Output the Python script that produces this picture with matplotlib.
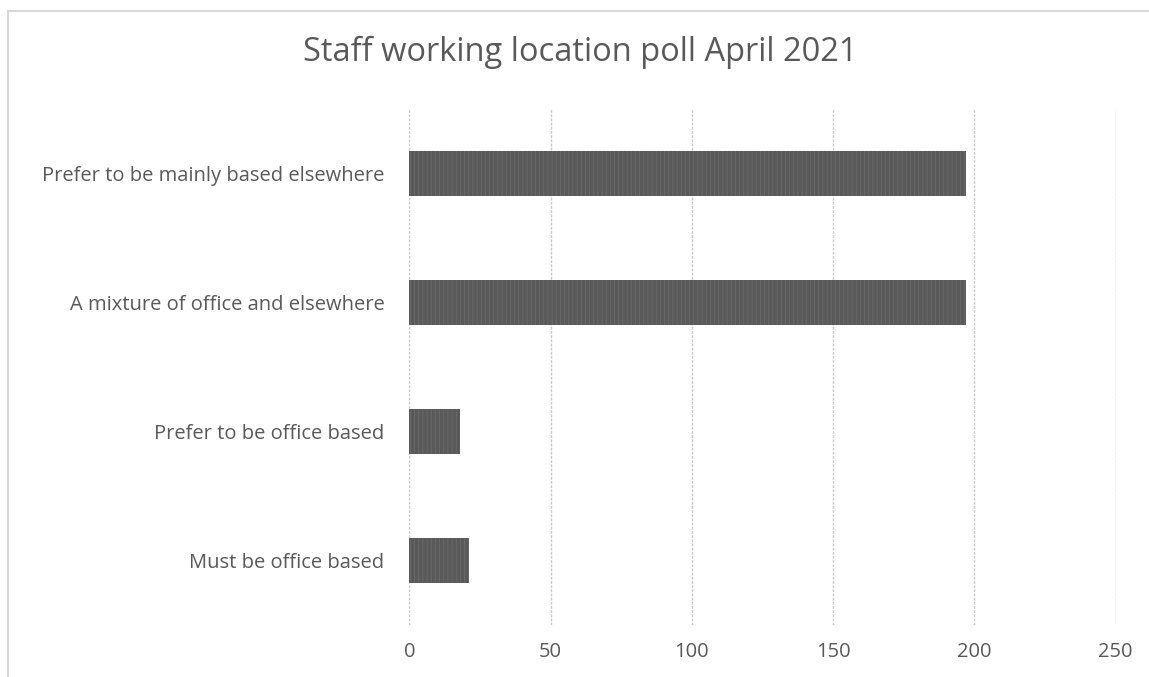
import matplotlib

matplotlib.use("Agg")
import matplotlib.pyplot as plt
from matplotlib.patches import Rectangle

categories = [
    "Must be office based",
    "Prefer to be office based",
    "A mixture of office and elsewhere",
    "Prefer to be mainly based elsewhere",
]
responses = [21, 18, 197, 197]
x_ticks = [0, 50, 100, 150, 200, 250]

plt.rcParams["font.family"] = ["Open Sans", "DejaVu Sans"]
plt.rcParams["hatch.linewidth"] = 0.6

fig = plt.figure(figsize=(11.49, 6.77), dpi=100)
ax = fig.add_axes([0.3562, 0.0768, 0.6148, 0.7622])

bars = ax.barh(categories, responses, height=0.35, color="#595959",
               edgecolor="#6b6b6b", hatch="||||", linewidth=0)

ax.set_xlim(0, 250)
ax.set_ylim(-0.5, 3.5)
ax.set_xticks(x_ticks)
ax.grid(axis="x", color="#c8c8c8", linestyle=(0, (2, 1)), linewidth=1)
ax.set_axisbelow(True)
for side in ["top", "right", "bottom", "left"]:
    ax.spines[side].set_visible(False)
ax.tick_params(axis="both", length=0, colors="#595959", labelsize=14.5)
ax.tick_params(axis="y", pad=18)
ax.tick_params(axis="x", pad=12)

fig.text(0.505, 0.923, "Staff working location poll April 2021",
         ha="center", va="center", fontsize=23.5, color="#595959")

# outer chart frame (partially cut off like the reference)
fig.patches.append(Rectangle((8 / 1149, -0.1), 1.2, 1 - 11 / 677 + 0.1,
                             transform=fig.transFigure, fill=False,
                             edgecolor="#d9d9d9", linewidth=1.5))

fig.savefig("out.png", dpi=100)
